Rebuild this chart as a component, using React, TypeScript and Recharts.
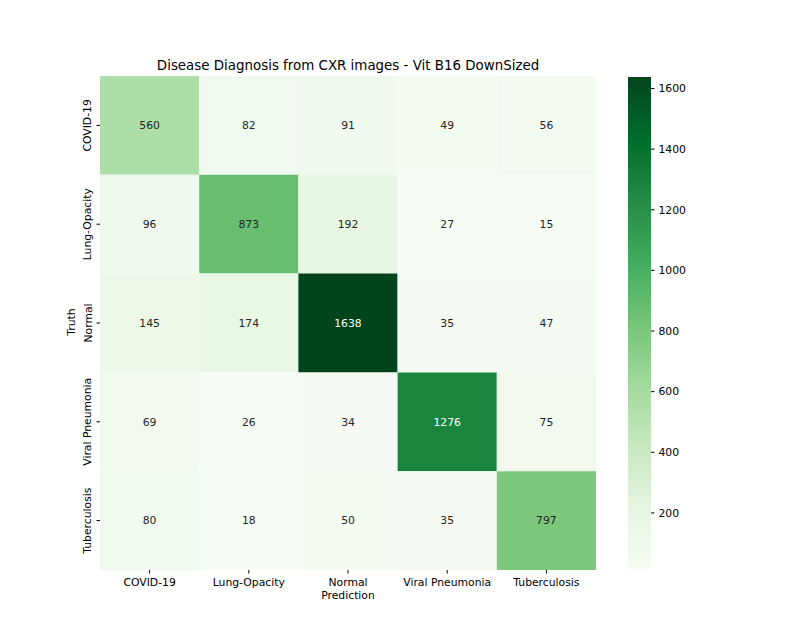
import React from 'react';
import { ScatterChart, Scatter, XAxis, YAxis, ReferenceArea } from 'recharts';

const classes = ['COVID-19', 'Lung-Opacity', 'Normal', 'Viral Pneumonia', 'Tuberculosis'];

// rows = truth, columns = prediction
const counts = [
  [560, 82, 91, 49, 56],
  [96, 873, 192, 27, 15],
  [145, 174, 1638, 35, 47],
  [69, 26, 34, 1276, 75],
  [80, 18, 50, 35, 797],
];

const colorbarTicks = [200, 400, 600, 800, 1000, 1200, 1400, 1600];

const greens = ['#f7fcf5', '#e5f5e0', '#c7e9c0', '#a1d99b', '#74c476', '#41ab5d', '#238b45', '#006d2c', '#00441b'];

const flat = counts.flat();
const vmin = Math.min(...flat);
const vmax = Math.max(...flat);

const hexToRgb = (h: string) => [1, 3, 5].map((i) => parseInt(h.slice(i, i + 2), 16));

const rgbFor = (v: number) => {
  const t = Math.max(0, Math.min(1, (v - vmin) / (vmax - vmin)));
  const pos = t * (greens.length - 1);
  const i = Math.min(greens.length - 2, Math.floor(pos));
  const f = pos - i;
  const a = hexToRgb(greens[i]);
  const b = hexToRgb(greens[i + 1]);
  return a.map((x, k) => x + (b[k] - x) * f);
};

const colorFor = (v: number) => {
  const c = rgbFor(v).map(Math.round);
  return `rgb(${c[0]},${c[1]},${c[2]})`;
};

const luminance = (v: number) => {
  const lin = rgbFor(v).map((x) => {
    const s = x / 255;
    return s <= 0.03928 ? s / 12.92 : Math.pow((s + 0.055) / 1.055, 2.4);
  });
  return 0.2126 * lin[0] + 0.7152 * lin[1] + 0.0722 * lin[2];
};

const cells = counts.flatMap((row, r) => row.map((v, c) => ({ r, c, v })));
const centers = cells.map((d) => ({ x: d.c + 0.5, y: d.r + 0.5 }));

const font = 'DejaVu Sans, sans-serif';
const fs = 10.8;

const YTick = (props: any) => {
  const { x, y, payload } = props;
  return (
    <text
      x={x - 3}
      y={y}
      transform={`rotate(-90, ${x - 3}, ${y})`}
      textAnchor="middle"
      fontSize={fs}
      fontFamily={font}
      fill="#000"
    >
      {classes[Math.floor(payload.value)]}
    </text>
  );
};

export default function App() {
  return (
    <div style={{ position: 'absolute', left: 0, top: 0, width: 800, height: 640, background: '#fff', fontFamily: font }}>
      <svg width="0" height="0" style={{ position: 'absolute' }}>
        <defs>
          <linearGradient id="greensBar" x1="0" y1="0" x2="0" y2="1">
            {greens
              .slice()
              .reverse()
              .map((g, i) => (
                <stop key={i} offset={`${(i / (greens.length - 1)) * 100}%`} stopColor={g} />
              ))}
          </linearGradient>
        </defs>
      </svg>

      <div style={{ position: 'absolute', left: 0, top: 0 }}>
        <ScatterChart width={800} height={640} margin={{ top: 76, right: 204, bottom: 40, left: 60 }}>
          <XAxis
            type="number"
            dataKey="x"
            domain={[0, 5]}
            ticks={[0.5, 1.5, 2.5, 3.5, 4.5]}
            tickFormatter={(v: number) => classes[Math.floor(v)]}
            height={30}
            axisLine={false}
            tickSize={3.5}
            tickMargin={5}
            tickLine={{ stroke: '#000' }}
            tick={{ fontSize: fs, fontFamily: font, fill: '#000' }}
            allowDataOverflow
          />
          <YAxis
            type="number"
            dataKey="y"
            domain={[0, 5]}
            reversed
            ticks={[0.5, 1.5, 2.5, 3.5, 4.5]}
            width={40}
            axisLine={false}
            tickSize={3.5}
            tickLine={{ stroke: '#000' }}
            tick={<YTick />}
            allowDataOverflow
          />
          {cells.map((d, i) => (
            <ReferenceArea
              key={i}
              x1={d.c}
              x2={d.c + 1}
              y1={d.r}
              y2={d.r + 1}
              fill={colorFor(d.v)}
              fillOpacity={1}
              stroke="none"
              ifOverflow="visible"
              label={{
                value: String(d.v),
                position: 'center',
                fill: luminance(d.v) < 0.408 ? '#ffffff' : '#262626',
                fontSize: fs,
                fontFamily: font,
              }}
            />
          ))}
          <Scatter data={centers} isAnimationActive={false} shape={() => <g />} />
        </ScatterChart>
      </div>

      <div style={{ position: 'absolute', left: 628, top: 0 }}>
        <ScatterChart width={83} height={640} margin={{ top: 77, right: 0, bottom: 71, left: 0 }}>
          <XAxis type="number" dataKey="x" domain={[0, 1]} hide />
          <YAxis
            type="number"
            dataKey="y"
            orientation="right"
            domain={[vmin, vmax]}
            ticks={colorbarTicks}
            width={60}
            axisLine={false}
            tickSize={3.5}
            tickMargin={4}
            tickLine={{ stroke: '#000' }}
            tick={{ fontSize: fs, fontFamily: font, fill: '#000' }}
            allowDataOverflow
          />
          <ReferenceArea
            x1={0}
            x2={1}
            y1={vmin}
            y2={vmax}
            fill="url(#greensBar)"
            fillOpacity={1}
            stroke="none"
            ifOverflow="visible"
          />
          <Scatter data={[{ x: 0.5, y: vmin }]} isAnimationActive={false} shape={() => <g />} />
        </ScatterChart>
      </div>

      <div style={{ position: 'absolute', left: 100, width: 496, top: 58, textAlign: 'center', fontSize: 13.4, color: '#000', lineHeight: '16px' }}>
        Disease Diagnosis from CXR images - Vit B16 DownSized
      </div>
      <div style={{ position: 'absolute', left: 100, width: 496, top: 589, textAlign: 'center', fontSize: fs, color: '#000', lineHeight: '14px' }}>
        Prediction
      </div>
      <div
        style={{
          position: 'absolute',
          left: 72 - 40,
          top: 322 - 7,
          width: 80,
          height: 14,
          lineHeight: '14px',
          textAlign: 'center',
          fontSize: fs,
          color: '#000',
          transform: 'rotate(-90deg)',
        }}
      >
        Truth
      </div>
    </div>
  );
}
